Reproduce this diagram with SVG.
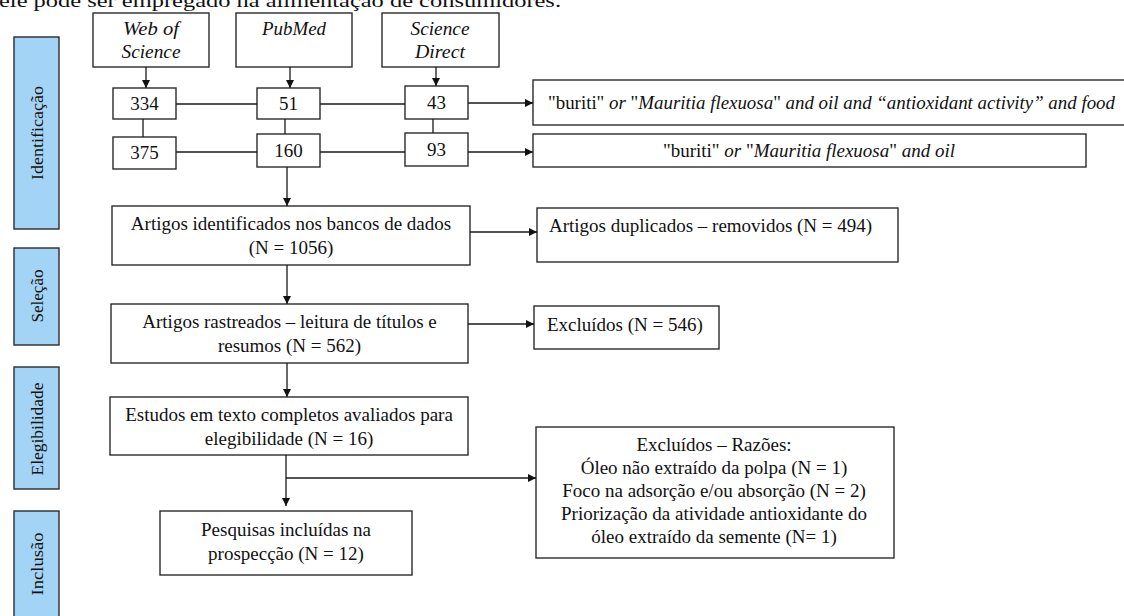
<svg xmlns="http://www.w3.org/2000/svg" width="1124" height="616" viewBox="0 0 1124 616">
  <style>
    .box { fill: #ffffff; stroke: #2b2b2b; stroke-width: 1.4; }
    .phase { fill: #a3d3f5; stroke: #2b2b2b; stroke-width: 1.4; }
    .t { font-family: "Liberation Serif", Tinos, "Times New Roman", serif; font-size: 19px; fill: #111; }
    .c { text-anchor: middle; }
    .num { font-size: 19px; }
    .it { font-style: italic; }
    .lbl { font-family: "Liberation Serif", Tinos, "Times New Roman", serif; font-size: 17px; fill: #111; text-anchor: middle; dominant-baseline: central; }
    .ln { fill: none; stroke: #1a1a1a; stroke-width: 1.3; }
    .arr { marker-end: url(#tip); }
  </style>
  <defs>
    <marker id="tip" viewBox="0 0 10 10" refX="10" refY="5" markerWidth="8" markerHeight="8" markerUnits="userSpaceOnUse" orient="auto">
      <path d="M0,0 L10,5 L0,10 Z" fill="#111"/>
    </marker>
  </defs>

  <rect width="1124" height="616" fill="#ffffff"/>

  <!-- running text line above the figure -->
  <text class="t" x="-1" y="7" font-size="24" textLength="562" lengthAdjust="spacingAndGlyphs">ele pode ser empregado na alimentação de consumidores.</text>

  <!-- phase labels -->
  <g id="phase-identificacao">
    <rect class="phase" x="14" y="37" width="45" height="192"/>
    <text class="lbl" transform="translate(37,133) rotate(-90)" textLength="94" lengthAdjust="spacingAndGlyphs">Identificação</text>
  </g>
  <g id="phase-selecao">
    <rect class="phase" x="14" y="248" width="45" height="97"/>
    <text class="lbl" transform="translate(37,296) rotate(-90)" textLength="53" lengthAdjust="spacingAndGlyphs">Seleção</text>
  </g>
  <g id="phase-elegibilidade">
    <rect class="phase" x="14" y="367" width="45" height="122"/>
    <text class="lbl" transform="translate(37,429) rotate(-90)" textLength="93" lengthAdjust="spacingAndGlyphs">Elegibilidade</text>
  </g>
  <g id="phase-inclusao">
    <rect class="phase" x="14" y="511" width="45" height="115"/>
    <text class="lbl" transform="translate(37,564) rotate(-90)" textLength="63" lengthAdjust="spacingAndGlyphs">Inclusão</text>
  </g>

  <!-- databases -->
  <g id="db-wos">
    <rect class="box" x="93" y="13" width="116" height="54"/>
    <text class="t it c" x="151" y="35" font-size="18" textLength="56" lengthAdjust="spacingAndGlyphs">Web of</text>
    <text class="t it c" x="151" y="58" font-size="18" textLength="59" lengthAdjust="spacingAndGlyphs">Science</text>
  </g>
  <g id="db-pubmed">
    <rect class="box" x="236" y="13" width="116" height="54"/>
    <text class="t it c" x="294" y="35" font-size="18" textLength="64" lengthAdjust="spacingAndGlyphs">PubMed</text>
  </g>
  <g id="db-sciencedirect">
    <rect class="box" x="382" y="13" width="117" height="54"/>
    <text class="t it c" x="440" y="35" font-size="18" textLength="59" lengthAdjust="spacingAndGlyphs">Science</text>
    <text class="t it c" x="440" y="58" font-size="18" textLength="50" lengthAdjust="spacingAndGlyphs">Direct</text>
  </g>

  <!-- counts per database -->
  <g id="n-334"><rect class="box" x="113" y="88" width="63" height="31"/><text class="t num c" x="144.5" y="110">334</text></g>
  <g id="n-51"><rect class="box" x="257" y="88" width="63" height="31"/><text class="t num c" x="288.5" y="110">51</text></g>
  <g id="n-43"><rect class="box" x="405" y="86" width="63" height="33"/><text class="t num c" x="436.5" y="109">43</text></g>
  <g id="n-375"><rect class="box" x="113" y="137" width="63" height="32"/><text class="t num c" x="144.5" y="159">375</text></g>
  <g id="n-160"><rect class="box" x="257" y="134" width="63" height="33"/><text class="t num c" x="288.5" y="157">160</text></g>
  <g id="n-93"><rect class="box" x="405" y="133" width="63" height="33"/><text class="t num c" x="436.5" y="156">93</text></g>

  <!-- search strings -->
  <g id="query-1">
    <rect class="box" x="533" y="80" width="600" height="45"/>
    <text class="t" x="548" y="109" font-size="18" textLength="567" lengthAdjust="spacingAndGlyphs">"buriti"<tspan class="it"> or </tspan>"<tspan class="it">Mauritia flexuosa</tspan>"<tspan class="it"> and oil and “antioxidant activity” and food</tspan></text>
  </g>
  <g id="query-2">
    <rect class="box" x="533" y="134" width="553" height="33"/>
    <text class="t c" x="809" y="157" font-size="18" textLength="292" lengthAdjust="spacingAndGlyphs">"buriti"<tspan class="it"> or </tspan>"<tspan class="it">Mauritia flexuosa</tspan>"<tspan class="it"> and oil</tspan></text>
  </g>

  <!-- flow boxes -->
  <g id="identificados">
    <rect class="box" x="112" y="206" width="358" height="59"/>
    <text class="t c" x="291" y="230">Artigos identificados nos bancos de dados</text>
    <text class="t c" x="291" y="254">(N = 1056)</text>
  </g>
  <g id="duplicados">
    <rect class="box" x="537" y="208" width="361" height="54"/>
    <text class="t" x="549" y="232">Artigos duplicados – removidos (N = 494)</text>
  </g>
  <g id="rastreados">
    <rect class="box" x="111" y="304" width="357" height="59"/>
    <text class="t c" x="289.5" y="328">Artigos rastreados – leitura de títulos e</text>
    <text class="t c" x="289.5" y="352">resumos (N = 562)</text>
  </g>
  <g id="excluidos">
    <rect class="box" x="534" y="306" width="185" height="43"/>
    <text class="t" x="547" y="331">Excluídos (N = 546)</text>
  </g>
  <g id="elegibilidade">
    <rect class="box" x="110" y="397" width="358" height="58"/>
    <text class="t c" x="289" y="421">Estudos em texto completos avaliados para</text>
    <text class="t c" x="289" y="445">elegibilidade (N = 16)</text>
  </g>
  <g id="excluidos-razoes">
    <rect class="box" x="536" y="427" width="358" height="131"/>
    <text class="t c" x="714" y="451">Excluídos – Razões:</text>
    <text class="t c" x="714" y="474">Óleo não extraído da polpa (N = 1)</text>
    <text class="t c" x="714" y="497">Foco na adsorção e/ou absorção (N = 2)</text>
    <text class="t c" x="714" y="520">Priorização da atividade antioxidante do</text>
    <text class="t c" x="714" y="543">óleo extraído da semente (N= 1)</text>
  </g>
  <g id="incluidas">
    <rect class="box" x="160" y="511" width="252" height="64"/>
    <text class="t c" x="286" y="536">Pesquisas incluídas na</text>
    <text class="t c" x="286" y="560">prospecção (N = 12)</text>
  </g>

  <!-- connectors -->
  <g id="connectors">
    <line class="ln arr" x1="146" y1="67" x2="146" y2="88"/>
    <line class="ln arr" x1="290" y1="67" x2="290" y2="88"/>
    <line class="ln arr" x1="436" y1="67" x2="436" y2="86"/>

    <line class="ln" x1="176" y1="104" x2="257" y2="104"/>
    <line class="ln" x1="320" y1="104" x2="405" y2="104"/>
    <line class="ln arr" x1="468" y1="103" x2="533" y2="103"/>

    <line class="ln" x1="143" y1="119" x2="143" y2="137"/>
    <line class="ln" x1="285" y1="119" x2="285" y2="134"/>
    <line class="ln" x1="433" y1="119" x2="433" y2="133"/>

    <line class="ln" x1="176" y1="152" x2="257" y2="152"/>
    <line class="ln" x1="320" y1="152" x2="405" y2="152"/>
    <line class="ln arr" x1="468" y1="152" x2="533" y2="152"/>

    <line class="ln arr" x1="287" y1="167" x2="287" y2="206"/>
    <line class="ln arr" x1="470" y1="232" x2="537" y2="232"/>
    <line class="ln arr" x1="287" y1="265" x2="287" y2="304"/>
    <line class="ln arr" x1="468" y1="324" x2="534" y2="324"/>
    <line class="ln arr" x1="287" y1="363" x2="287" y2="397"/>
    <line class="ln arr" x1="286" y1="455" x2="286" y2="506"/>
    <line class="ln arr" x1="286" y1="478" x2="536" y2="478"/>
  </g>
</svg>
